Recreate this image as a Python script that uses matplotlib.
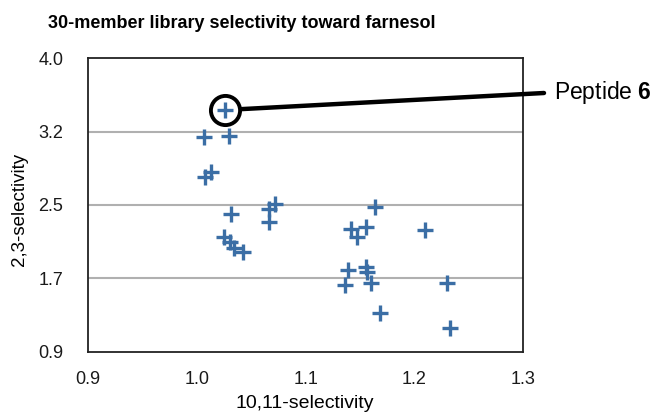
import matplotlib
matplotlib.use("Agg")
import matplotlib.pyplot as plt
import numpy as np

plt.rcParams['font.family'] = ['Liberation Sans', 'DejaVu Sans']
plt.rcParams['mathtext.fontset'] = 'custom'
plt.rcParams['mathtext.rm'] = 'Liberation Sans'
plt.rcParams['mathtext.bf'] = 'Liberation Sans:bold'

title = "30-member library selectivity toward farnesol"
xlabel = "10,11-selectivity"
ylabel = "2,3-selectivity"

# 10,11-selectivity (x) and 2,3-selectivity (y) of library members
sel_1011 = [1.026, 1.006, 1.029, 1.007, 1.013, 1.031, 1.066, 1.072, 1.066,
            1.025, 1.030, 1.034, 1.042,
            1.164, 1.142, 1.155, 1.147, 1.210, 1.139, 1.155, 1.156, 1.136,
            1.160, 1.230, 1.168, 1.233]
sel_23 = [3.454, 3.172, 3.179, 2.749, 2.795, 2.355, 2.408, 2.461, 2.274,
          2.115, 2.055, 1.995, 1.950,
          2.432, 2.195, 2.221, 2.109, 2.186, 1.763, 1.798, 1.745, 1.605,
          1.623, 1.623, 1.306, 1.147]

highlight_idx = 0
highlight_label = r"Peptide $\mathbf{6}$"

y_ticks = [0.9, 1.675, 2.45, 3.225, 4.0]
y_ticklabels = ["0.9", "1.7", "2.5", "3.2", "4.0"]
x_ticks = [0.9, 1.0, 1.1, 1.2, 1.3]
x_ticklabels = ["0.9", "1.0", "1.1", "1.2", "1.3"]

W, H = 658, 412
fig = plt.figure(figsize=(W/100, H/100), dpi=100)
ax = fig.add_axes([88.3/W, 1-351.7/H, (523.3-88.3)/W, (351.7-58.3)/H])

ax.set_xlim(0.9, 1.3)
ax.set_ylim(0.9, 4.0)
ax.set_yticks(y_ticks)
ax.set_yticklabels(y_ticklabels)
ax.set_xticks(x_ticks)
ax.set_xticklabels(x_ticklabels)
ax.tick_params(axis='both', length=0, labelsize=13, colors='#1a1a1a')
ax.tick_params(axis='y', pad=18)
ax.tick_params(axis='x', pad=14)

for yt in y_ticks[1:-1]:
    ax.axhline(yt, color='#b0b0b0', lw=1.5, zorder=1)
for s in ax.spines.values():
    s.set_linewidth(1.3)
    s.set_color('#222222')

ax.plot(sel_1011, sel_23, linestyle='none', marker='+', ms=12, mew=2.4,
        color='#3b6ea5', zorder=3)

hx, hy = sel_1011[highlight_idx], sel_23[highlight_idx]
ax.plot(hx, hy, linestyle='none', marker='o', ms=21, mfc='none', mec='black',
        mew=2.8, zorder=4)
ax.annotate('', xy=(hx, hy), xycoords='data',
            xytext=(544/W, 1-93/H), textcoords='figure fraction',
            arrowprops=dict(arrowstyle='-', lw=3.2, color='black',
                            shrinkA=0, shrinkB=11.5),
            annotation_clip=False, zorder=4)
fig.text(554/W, 1-93/H, highlight_label, fontsize=16.5, ha='left', va='center')

fig.text(242/W, 1-24/H, title, fontsize=13, fontweight='bold', ha='center', va='center')
fig.text(305/W, 1-403/H, xlabel, fontsize=14, ha='center', va='center')
fig.text(20/W, 1-209/H, ylabel, fontsize=13.5, ha='center', va='center', rotation=90)

fig.savefig("out.png", dpi=100)
